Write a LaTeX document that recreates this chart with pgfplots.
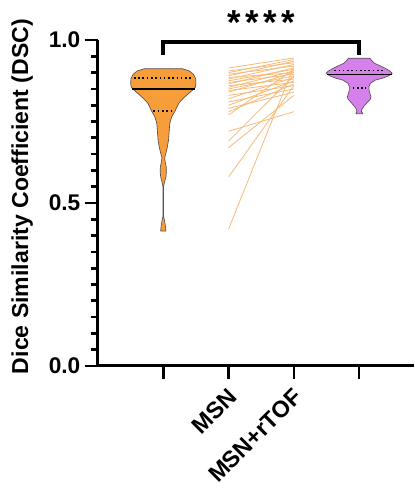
\documentclass[border=0pt]{standalone}
\usepackage{fontspec}
\setmainfont{Liberation Sans}
\usepackage{pgfplots}
\pgfplotsset{compat=1.18}

\definecolor{msnorange}{RGB}{247,157,58}
\definecolor{pairline}{RGB}{246,186,120}
\definecolor{rtofpurple}{RGB}{214,128,236}
\definecolor{violinedge}{RGB}{90,80,80}

\begin{document}
\begin{tikzpicture}
\path[use as bounding box] (-73.5pt,-93.75pt) rectangle (237pt,274.5pt);
\begin{axis}[
    scale only axis,
    width=237pt, height=244.5pt,
    xmin=0, xmax=4.84, ymin=0, ymax=1,
    clip=false,
    axis x line=bottom, axis y line=left,
    axis line style={-, line width=2.25pt},
    every tick/.style={black, line width=2pt},
    tick align=outside,
    major tick length=9.75pt, minor tick length=5.5pt,
    xtick={1,2,3,4},
    xticklabels={,MSN,MSN+rTOF,},
    x tick label style={rotate=45, anchor=north east, inner sep=0pt, xshift=-5pt, yshift=-3pt,
        font=\bfseries\fontsize{17.5}{17.5}\selectfont},
    ytick={0,0.5,1},
    yticklabels={0.0,0.5,1.0},
    minor y tick num=9,
    y tick label style={font=\bfseries\fontsize{17}{17}\selectfont},
    /pgf/number format/assume math mode=true,
]
% paired lines MSN -> MSN+rTOF
\addplot[pairline, line width=0.6pt] coordinates {(2,0.914) (3,0.945)};
\addplot[pairline, line width=0.6pt] coordinates {(2,0.905) (3,0.930)};
\addplot[pairline, line width=0.6pt] coordinates {(2,0.900) (3,0.940)};
\addplot[pairline, line width=0.6pt] coordinates {(2,0.895) (3,0.920)};
\addplot[pairline, line width=0.6pt] coordinates {(2,0.890) (3,0.935)};
\addplot[pairline, line width=0.6pt] coordinates {(2,0.885) (3,0.900)};
\addplot[pairline, line width=0.6pt] coordinates {(2,0.880) (3,0.925)};
\addplot[pairline, line width=0.6pt] coordinates {(2,0.875) (3,0.910)};
\addplot[pairline, line width=0.6pt] coordinates {(2,0.870) (3,0.895)};
\addplot[pairline, line width=0.6pt] coordinates {(2,0.865) (3,0.915)};
\addplot[pairline, line width=0.6pt] coordinates {(2,0.860) (3,0.880)};
\addplot[pairline, line width=0.6pt] coordinates {(2,0.855) (3,0.905)};
\addplot[pairline, line width=0.6pt] coordinates {(2,0.850) (3,0.890)};
\addplot[pairline, line width=0.6pt] coordinates {(2,0.845) (3,0.870)};
\addplot[pairline, line width=0.6pt] coordinates {(2,0.840) (3,0.900)};
\addplot[pairline, line width=0.6pt] coordinates {(2,0.830) (3,0.860)};
\addplot[pairline, line width=0.6pt] coordinates {(2,0.820) (3,0.885)};
\addplot[pairline, line width=0.6pt] coordinates {(2,0.810) (3,0.850)};
\addplot[pairline, line width=0.6pt] coordinates {(2,0.800) (3,0.875)};
\addplot[pairline, line width=0.6pt] coordinates {(2,0.790) (3,0.840)};
\addplot[pairline, line width=0.6pt] coordinates {(2,0.780) (3,0.865)};
\addplot[pairline, line width=0.6pt] coordinates {(2,0.770) (3,0.910)};
\addplot[pairline, line width=0.6pt] coordinates {(2,0.720) (3,0.780)};
\addplot[pairline, line width=0.6pt] coordinates {(2,0.690) (3,0.890)};
\addplot[pairline, line width=0.6pt] coordinates {(2,0.670) (3,0.830)};
\addplot[pairline, line width=0.6pt] coordinates {(2,0.580) (3,0.860)};
\addplot[pairline, line width=0.6pt] coordinates {(2,0.420) (3,0.920)};

% MSN violin
\addplot[fill=msnorange, draw=violinedge, line width=0.5pt] coordinates {
(1.29,0.912)(1.40,0.905)(1.46,0.895)(1.495,0.882)(1.50,0.868)(1.49,0.855)
(1.44,0.845)(1.36,0.831)(1.29,0.818)(1.24,0.807)(1.21,0.795)(1.18,0.782)
(1.13,0.765)(1.10,0.745)(1.09,0.72)(1.08,0.693)(1.06,0.67)(1.04,0.653)
(1.02,0.638)(1.03,0.625)(1.045,0.61)(1.047,0.595)(1.04,0.58)(1.015,0.561)
(1.004,0.548)(1.004,0.46)(1.02,0.445)(1.035,0.425)(1.04,0.414)
(0.96,0.414)(0.965,0.425)(0.98,0.445)(0.996,0.46)(0.996,0.548)(0.985,0.561)
(0.96,0.58)(0.953,0.595)(0.955,0.61)(0.97,0.625)(0.98,0.638)(0.96,0.653)
(0.94,0.67)(0.92,0.693)(0.91,0.72)(0.90,0.745)(0.87,0.765)(0.82,0.782)
(0.79,0.795)(0.76,0.807)(0.71,0.818)(0.64,0.831)(0.56,0.845)(0.51,0.855)
(0.50,0.868)(0.505,0.882)(0.54,0.895)(0.60,0.905)(0.71,0.912)
} -- cycle;
\addplot[black, line width=1.4pt] coordinates {(0.52,0.850) (1.48,0.850)};
\addplot[black, line width=1.2pt, dotted] coordinates {(0.55,0.883) (1.45,0.883)};
\addplot[black, line width=1.2pt, dotted] coordinates {(0.85,0.782) (1.15,0.782)};

% MSN+rTOF violin
\addplot[fill=rtofpurple, draw=violinedge, line width=0.5pt] coordinates {
(4.165,0.944)(4.20,0.935)(4.24,0.928)(4.33,0.920)(4.40,0.913)(4.47,0.905)
(4.505,0.898)(4.45,0.890)(4.36,0.883)(4.25,0.877)(4.17,0.867)(4.15,0.857)
(4.15,0.847)(4.165,0.836)(4.18,0.826)(4.17,0.818)(4.135,0.811)(4.10,0.803)
(4.07,0.796)(4.04,0.787)(4.035,0.780)(4.05,0.776)(4.05,0.774)
(3.95,0.774)(3.95,0.776)(3.965,0.780)(3.96,0.787)(3.93,0.796)(3.90,0.803)
(3.865,0.811)(3.83,0.818)(3.82,0.826)(3.835,0.836)(3.85,0.847)(3.85,0.857)
(3.83,0.867)(3.75,0.877)(3.64,0.883)(3.55,0.890)(3.495,0.898)(3.53,0.905)
(3.60,0.913)(3.67,0.920)(3.76,0.928)(3.80,0.935)(3.835,0.944)
} -- cycle;
\addplot[black, line width=1.4pt] coordinates {(3.50,0.894) (4.50,0.894)};
\addplot[black, line width=1.2pt, dotted] coordinates {(3.62,0.906) (4.38,0.906)};
\addplot[black, line width=1.2pt, dotted] coordinates {(3.90,0.853) (4.10,0.853)};

% significance bracket
\draw[line width=3pt] (axis cs:1,0.954) -- (axis cs:1,0.995) -- (axis cs:4,0.995) -- (axis cs:4,0.954);
\node[font=\bfseries\fontsize{26}{26}\selectfont] at (axis cs:2.5,1.052) {*\hspace{3.5pt}*\hspace{3.5pt}*\hspace{3.5pt}*};

\node[rotate=90, font=\bfseries\fontsize{17.3}{17.3}\selectfont] at (axis cs:-1.16,0.52) {Dice Similarity Coefficient (DSC)};
\end{axis}
\end{tikzpicture}
\end{document}
